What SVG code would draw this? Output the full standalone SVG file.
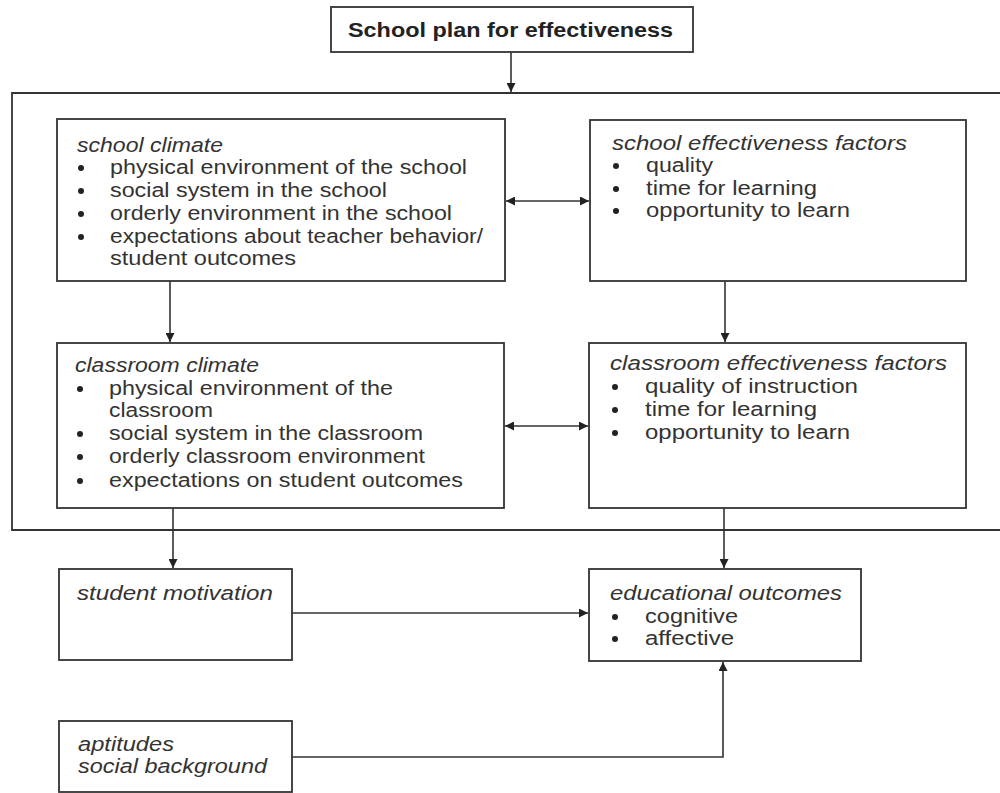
<svg xmlns="http://www.w3.org/2000/svg" width="1000" height="793" viewBox="0 0 1000 793">
<defs>
<style>
.box{fill:#fff;stroke:#333;stroke-width:1.8}
.outer{fill:none;stroke:#333;stroke-width:1.8}
.t{font-family:"Liberation Sans",Arial,sans-serif;font-size:20px;fill:#333}
.h{font-style:italic}
.title{font-family:"Liberation Sans",Arial,sans-serif;font-size:20px;font-weight:bold;fill:#222}
.c{fill:none;stroke:#333;stroke-width:1.6}
.dot{fill:#222}
</style>
<marker id="ah" viewBox="0 0 10 10" refX="10" refY="5" markerWidth="9" markerHeight="9" markerUnits="userSpaceOnUse" orient="auto-start-reverse">
<path d="M0,0 L10,5 L0,10 z" fill="#222"/>
</marker>
</defs>
<rect width="1000" height="793" fill="#fff"/>
<g id="outer-frame"><path class="outer" d="M1005,93 H12 V530 H1005"/></g>
<g id="connectors">
<line class="c" x1="511" y1="52" x2="511" y2="92" marker-end="url(#ah)"/>
<line class="c" x1="506" y1="201" x2="589" y2="201" marker-start="url(#ah)" marker-end="url(#ah)"/>
<line class="c" x1="170" y1="281" x2="170" y2="342" marker-end="url(#ah)"/>
<line class="c" x1="725" y1="281" x2="725" y2="342" marker-end="url(#ah)"/>
<line class="c" x1="505" y1="426" x2="588" y2="426" marker-start="url(#ah)" marker-end="url(#ah)"/>
<line class="c" x1="173" y1="508" x2="173" y2="568" marker-end="url(#ah)"/>
<line class="c" x1="724" y1="508" x2="724" y2="568" marker-end="url(#ah)"/>
<line class="c" x1="292" y1="613" x2="588" y2="613" marker-end="url(#ah)"/>
<polyline class="c" points="292,757 723,757 723,662" marker-end="url(#ah)"/>
</g>
<g id="title">
<rect class="box" x="331" y="7" width="362" height="45"/>
<text class="title" x="348" y="37" textLength="325" lengthAdjust="spacingAndGlyphs">School plan for effectiveness</text>
</g>
<g id="school-climate">
<rect class="box" x="57" y="119" width="448" height="162"/>
<text class="t h" x="77" y="152" textLength="146" lengthAdjust="spacingAndGlyphs">school climate</text>
<circle class="dot" cx="81" cy="168" r="3"/><text class="t" x="110" y="174" textLength="357" lengthAdjust="spacingAndGlyphs">physical environment of the school</text>
<circle class="dot" cx="81" cy="191" r="3"/><text class="t" x="110" y="197" textLength="277" lengthAdjust="spacingAndGlyphs">social system in the school</text>
<circle class="dot" cx="81" cy="214" r="3"/><text class="t" x="110" y="220" textLength="342" lengthAdjust="spacingAndGlyphs">orderly environment in the school</text>
<circle class="dot" cx="81" cy="237" r="3"/><text class="t" x="110" y="243" textLength="373" lengthAdjust="spacingAndGlyphs">expectations about teacher behavior/</text>
<text class="t" x="110" y="265" textLength="186" lengthAdjust="spacingAndGlyphs">student outcomes</text>
</g>
<g id="school-effectiveness-factors">
<rect class="box" x="590" y="120" width="376" height="161"/>
<text class="t h" x="612" y="150" textLength="295" lengthAdjust="spacingAndGlyphs">school effectiveness factors</text>
<circle class="dot" cx="616" cy="166" r="3"/><text class="t" x="646" y="172" textLength="67" lengthAdjust="spacingAndGlyphs">quality</text>
<circle class="dot" cx="616" cy="189" r="3"/><text class="t" x="646" y="195" textLength="171" lengthAdjust="spacingAndGlyphs">time for learning</text>
<circle class="dot" cx="616" cy="211" r="3"/><text class="t" x="646" y="217" textLength="204" lengthAdjust="spacingAndGlyphs">opportunity to learn</text>
</g>
<g id="classroom-climate">
<rect class="box" x="57" y="343" width="447" height="165"/>
<text class="t h" x="75" y="372" textLength="184" lengthAdjust="spacingAndGlyphs">classroom climate</text>
<circle class="dot" cx="80" cy="389" r="3"/><text class="t" x="109" y="395" textLength="284" lengthAdjust="spacingAndGlyphs">physical environment of the</text>
<text class="t" x="109" y="417" textLength="104" lengthAdjust="spacingAndGlyphs">classroom</text>
<circle class="dot" cx="80" cy="434" r="3"/><text class="t" x="109" y="440" textLength="314" lengthAdjust="spacingAndGlyphs">social system in the classroom</text>
<circle class="dot" cx="80" cy="457" r="3"/><text class="t" x="109" y="463" textLength="316" lengthAdjust="spacingAndGlyphs">orderly classroom environment</text>
<circle class="dot" cx="80" cy="481" r="3"/><text class="t" x="109" y="487" textLength="354" lengthAdjust="spacingAndGlyphs">expectations on student outcomes</text>
</g>
<g id="classroom-effectiveness-factors">
<rect class="box" x="589" y="343" width="377" height="165"/>
<text class="t h" x="610" y="370" textLength="337" lengthAdjust="spacingAndGlyphs">classroom effectiveness factors</text>
<circle class="dot" cx="615" cy="387" r="3"/><text class="t" x="645" y="393" textLength="213" lengthAdjust="spacingAndGlyphs">quality of instruction</text>
<circle class="dot" cx="615" cy="410" r="3"/><text class="t" x="645" y="416" textLength="172" lengthAdjust="spacingAndGlyphs">time for learning</text>
<circle class="dot" cx="615" cy="433" r="3"/><text class="t" x="645" y="439" textLength="205" lengthAdjust="spacingAndGlyphs">opportunity to learn</text>
</g>
<g id="student-motivation">
<rect class="box" x="59" y="569" width="233" height="91"/>
<text class="t h" x="77" y="600" textLength="196" lengthAdjust="spacingAndGlyphs">student motivation</text>
</g>
<g id="educational-outcomes">
<rect class="box" x="589" y="569" width="272" height="92"/>
<text class="t h" x="610" y="600" textLength="232" lengthAdjust="spacingAndGlyphs">educational outcomes</text>
<circle class="dot" cx="615" cy="617" r="3"/><text class="t" x="645" y="623" textLength="93" lengthAdjust="spacingAndGlyphs">cognitive</text>
<circle class="dot" cx="615" cy="639" r="3"/><text class="t" x="645" y="645" textLength="89" lengthAdjust="spacingAndGlyphs">affective</text>
</g>
<g id="aptitudes">
<rect class="box" x="59" y="721" width="233" height="71"/>
<text class="t h" x="78" y="751" textLength="96" lengthAdjust="spacingAndGlyphs">aptitudes</text>
<text class="t h" x="78" y="773" textLength="189" lengthAdjust="spacingAndGlyphs">social background</text>
</g>
</svg>
